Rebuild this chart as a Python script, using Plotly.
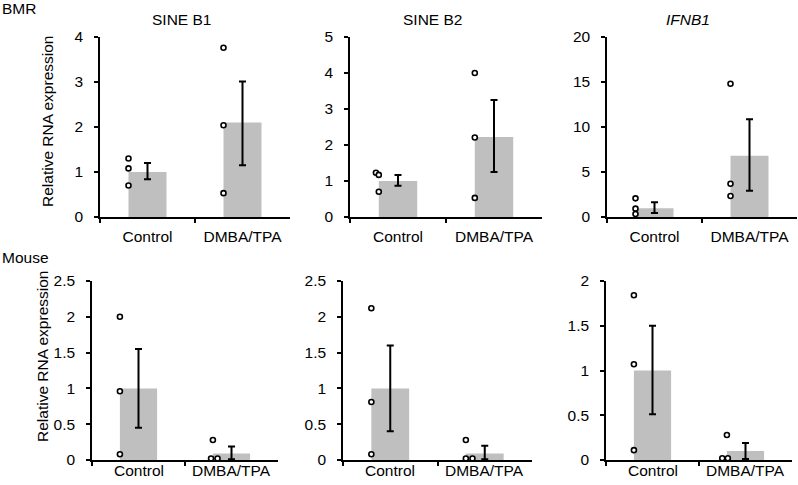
import plotly.graph_objects as go

W, H = 798, 485

categories = ["Control", "DMBA/TPA"]
panel_titles = ["SINE B1", "SINE B2", "<i>IFNB1</i>", "", "", ""]
row_labels = ["BMR", "Mouse"]
y_title = "Relative RNA expression"

# Bar means (Control, DMBA/TPA) per panel
bmr_sine_b1_mean = [1.0, 2.1]
bmr_sine_b2_mean = [1.0, 2.22]
bmr_ifnb1_mean = [0.97, 6.8]
mouse_sine_b1_mean = [1.0, 0.09]
mouse_sine_b2_mean = [1.0, 0.09]
mouse_ifnb1_mean = [1.0, 0.1]

# Error bar upper / lower ends
bmr_sine_b1_err_hi = [1.2, 3.01]
bmr_sine_b1_err_lo = [0.84, 1.15]
bmr_sine_b2_err_hi = [1.17, 3.25]
bmr_sine_b2_err_lo = [0.87, 1.25]
bmr_ifnb1_err_hi = [1.63, 10.85]
bmr_ifnb1_err_lo = [0.45, 2.93]
mouse_sine_b1_err_hi = [1.55, 0.19]
mouse_sine_b1_err_lo = [0.45, 0.01]
mouse_sine_b2_err_hi = [1.6, 0.2]
mouse_sine_b2_err_lo = [0.4, 0.01]
mouse_ifnb1_err_hi = [1.5, 0.19]
mouse_ifnb1_err_lo = [0.51, 0.01]

# Individual replicate values
bmr_sine_b1_ctrl = [1.3, 1.08, 0.7]
bmr_sine_b1_dmba = [3.76, 2.04, 0.53]
bmr_sine_b2_ctrl = [1.23, 1.17, 0.7]
bmr_sine_b2_dmba = [4.0, 2.21, 0.53]
bmr_ifnb1_ctrl = [2.07, 0.93, 0.33]
bmr_ifnb1_dmba = [14.8, 3.7, 2.33]
mouse_sine_b1_ctrl = [2.0, 0.96, 0.08]
mouse_sine_b1_dmba = [0.28, 0.02, 0.02]
mouse_sine_b2_ctrl = [2.12, 0.81, 0.08]
mouse_sine_b2_dmba = [0.28, 0.02, 0.02]
mouse_ifnb1_ctrl = [1.84, 1.07, 0.11]
mouse_ifnb1_dmba = [0.28, 0.02, 0.02]

# Y axis maxima and tick steps
y_max = [4, 5, 20, 2.5, 2.5, 2]
y_dtick = [1, 1, 5, 0.5, 0.5, 0.5]

panels = [
    (bmr_sine_b1_mean, bmr_sine_b1_err_hi, bmr_sine_b1_err_lo, bmr_sine_b1_ctrl, bmr_sine_b1_dmba),
    (bmr_sine_b2_mean, bmr_sine_b2_err_hi, bmr_sine_b2_err_lo, bmr_sine_b2_ctrl, bmr_sine_b2_dmba),
    (bmr_ifnb1_mean, bmr_ifnb1_err_hi, bmr_ifnb1_err_lo, bmr_ifnb1_ctrl, bmr_ifnb1_dmba),
    (mouse_sine_b1_mean, mouse_sine_b1_err_hi, mouse_sine_b1_err_lo, mouse_sine_b1_ctrl, mouse_sine_b1_dmba),
    (mouse_sine_b2_mean, mouse_sine_b2_err_hi, mouse_sine_b2_err_lo, mouse_sine_b2_ctrl, mouse_sine_b2_dmba),
    (mouse_ifnb1_mean, mouse_ifnb1_err_hi, mouse_ifnb1_err_lo, mouse_ifnb1_ctrl, mouse_ifnb1_dmba),
]

# ---- layout (pixel boxes of each plot area) ----
boxes = [
    (100, 290, 37, 217), (350, 542, 37, 217), (607, 797, 37, 217),
    (92, 278, 281, 460), (343, 532, 281, 460), (606, 792, 281, 460),
]
DOT_OFF = -0.2
ctrl_jitter = [[0, 0, 0], [-0.03, 0, 0], [0, 0, 0], [0, 0, 0], [0, 0, 0], [0, 0, 0]]
dmba_jitter = [[0, 0, 0], [0, 0, 0], [0, 0, 0], [0, -0.02, 0.05], [0, 0, 0.07], [0, -0.05, 0.01]]

FONT = "Arial, Liberation Sans, sans-serif"
FS = 15.5
fig = go.Figure()
layout = dict(
    width=W, height=H, margin=dict(l=0, r=0, t=0, b=0, autoexpand=False),
    plot_bgcolor="white", paper_bgcolor="white", showlegend=False,
    font=dict(family=FONT, size=FS, color="black"),
)
annotations = []

for i, (mean, hi, lo, ctrl, dmba) in enumerate(panels):
    n = "" if i == 0 else str(i + 1)
    xa, ya = "x" + n, "y" + n
    x0, x1, yt, yb = boxes[i]
    bottom_row = i >= 3
    fig.add_trace(go.Bar(
        x=[0, 1], y=mean, width=0.4, marker=dict(color="#BFBFBF", line=dict(width=0)),
        error_y=dict(type="data", symmetric=False,
                     array=[h - m for h, m in zip(hi, mean)],
                     arrayminus=[m - l for m, l in zip(mean, lo)],
                     color="black", thickness=2, width=3.5),
        xaxis=xa, yaxis=ya, hoverinfo="skip",
    ))
    xs = [DOT_OFF + j for j in ctrl_jitter[i]] + [1 + DOT_OFF + j for j in dmba_jitter[i]]
    fig.add_trace(go.Scatter(
        x=xs, y=ctrl + dmba, mode="markers", cliponaxis=False,
        marker=dict(symbol="circle", size=5, color="white", line=dict(color="black", width=1.6)),
        xaxis=xa, yaxis=ya, hoverinfo="skip",
    ))
    layout["xaxis" + n] = dict(
        domain=[x0 / W, x1 / W], anchor=ya, range=[-0.5, 1.5], automargin=False,
        tickmode="array", tickvals=[0, 1], ticktext=categories, ticks="",
        ticklabelstandoff=5, showticklabels=not bottom_row,
        showline=True, linecolor="black", linewidth=1.5, showgrid=False, zeroline=False,
        minor=dict(tickmode="array", tickvals=[-0.5, 0.5], ticks="outside", ticklen=4,
                   tickwidth=1.5, tickcolor="black", showgrid=False),
        fixedrange=True,
    )
    layout["yaxis" + n] = dict(
        domain=[1 - yb / H, 1 - yt / H], anchor=xa, range=[0, y_max[i]], dtick=y_dtick[i],
        automargin=False,
        ticks="outside", ticklen=4, tickwidth=1.5, tickcolor="black", ticklabelstandoff=8,
        showline=True, linecolor="black", linewidth=1.5, showgrid=False, zeroline=False,
        fixedrange=True,
    )
    if bottom_row:
        for k, cat in enumerate(categories):
            annotations.append(dict(text=cat, x=k, xref=xa, y=1 - 470 / H, yref="paper",
                                    showarrow=False, xanchor="center", yanchor="middle",
                                    font=dict(size=FS)))
    if panel_titles[i]:
        annotations.append(dict(text=panel_titles[i], x=((x0 + x1) / 2 - 14) / W, y=1 - 20 / H,
                                xref="paper", yref="paper", showarrow=False,
                                font=dict(size=FS), xanchor="center", yanchor="middle"))

annotations += [
    dict(text=row_labels[0], x=0, y=1 - 8 / H, xref="paper", yref="paper", showarrow=False,
         xanchor="left", yanchor="middle", font=dict(size=FS)),
    dict(text=row_labels[1], x=0, y=1 - 257 / H, xref="paper", yref="paper", showarrow=False,
         xanchor="left", yanchor="middle", font=dict(size=FS)),
    dict(text=y_title, x=47 / W, y=1 - 122 / H, xref="paper", yref="paper", showarrow=False,
         textangle=-90, xanchor="center", yanchor="middle", font=dict(size=FS)),
    dict(text=y_title, x=42 / W, y=1 - 357 / H, xref="paper", yref="paper", showarrow=False,
         textangle=-90, xanchor="center", yanchor="middle", font=dict(size=FS)),
]
layout["annotations"] = annotations
fig.update_layout(**layout)
fig.write_html("out.html", config={"displayModeBar": False},
               post_script="document.body.style.margin='0';document.body.style.padding='0';")
